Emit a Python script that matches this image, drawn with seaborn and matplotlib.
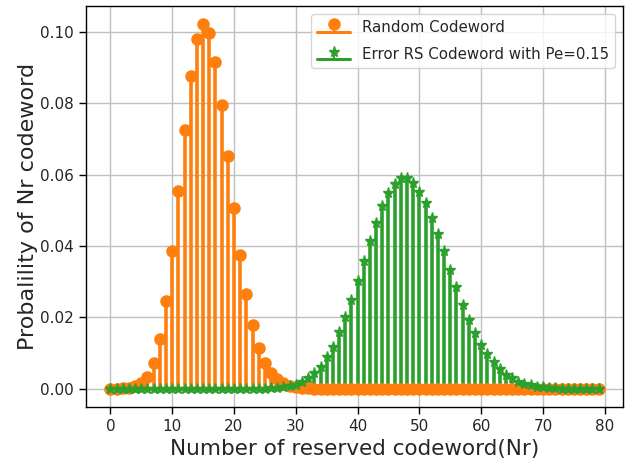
import numpy as np
import matplotlib
matplotlib.use("Agg")
import matplotlib.pyplot as plt
import seaborn as sns

nr = list(range(80))

random_codeword = [
    0.0000, 0.0000, 0.0001, 0.0003, 0.0008, 0.0017, 0.0033, 0.0072, 0.0140, 0.0246,
    0.0387, 0.0555, 0.0725, 0.0877, 0.0980, 0.1022, 0.0998, 0.0917, 0.0796, 0.0653,
    0.0508, 0.0375, 0.0266, 0.0179, 0.0114, 0.0072, 0.0044, 0.0027, 0.0015, 0.0008,
    0.0004, 0.0002, 0.0001, 0.0000, 0.0000, 0.0000, 0.0000, 0.0000, 0.0000, 0.0000,
    0.0000, 0.0000, 0.0000, 0.0000, 0.0000, 0.0000, 0.0000, 0.0000, 0.0000, 0.0000,
    0.0000, 0.0000, 0.0000, 0.0000, 0.0000, 0.0000, 0.0000, 0.0000, 0.0000, 0.0000,
    0.0000, 0.0000, 0.0000, 0.0000, 0.0000, 0.0000, 0.0000, 0.0000, 0.0000, 0.0000,
    0.0000, 0.0000, 0.0000, 0.0000, 0.0000, 0.0000, 0.0000, 0.0000, 0.0000, 0.0000,
]

error_rs_codeword = [
    0.0000, 0.0000, 0.0000, 0.0000, 0.0000, 0.0000, 0.0000, 0.0000, 0.0000, 0.0000,
    0.0000, 0.0000, 0.0000, 0.0000, 0.0000, 0.0000, 0.0000, 0.0000, 0.0000, 0.0000,
    0.0000, 0.0000, 0.0000, 0.0000, 0.0000, 0.0000, 0.0001, 0.0002, 0.0004, 0.0007,
    0.0012, 0.0020, 0.0030, 0.0044, 0.0062, 0.0088, 0.0118, 0.0158, 0.0201, 0.0249,
    0.0303, 0.0359, 0.0415, 0.0466, 0.0511, 0.0548, 0.0574, 0.0590, 0.0590, 0.0578,
    0.0553, 0.0520, 0.0480, 0.0434, 0.0385, 0.0333, 0.0284, 0.0236, 0.0194, 0.0156,
    0.0123, 0.0097, 0.0074, 0.0055, 0.0039, 0.0029, 0.0020, 0.0014, 0.0010, 0.0006,
    0.0004, 0.0002, 0.0001, 0.0000, 0.0000, 0.0000, 0.0000, 0.0000, 0.0000, 0.0000,
]

labels = ["Random Codeword", "Error RS Codeword with Pe=0.15"]
colors = ["#ff7f0e", "#2ca02c"]

sns.set_style("ticks")
plt.rcParams["font.family"] = ["DejaVu Sans"]

fig = plt.figure(figsize=(6.31, 4.63), dpi=100)
ax = fig.add_axes([0.1363, 0.121, 0.8510, 0.866])

c1 = ax.stem(nr, random_codeword, linefmt="-", markerfmt="o", basefmt="-", label=labels[0])
plt.setp(c1.stemlines, color=colors[0], linewidth=2.6, zorder=2)
plt.setp(c1.markerline, color=colors[0], markersize=8, zorder=3)
plt.setp(c1.baseline, color=colors[0], linewidth=2.2, zorder=2)

c2 = ax.stem(nr, error_rs_codeword, linefmt="-", markerfmt="*", basefmt="-", label=labels[1])
plt.setp(c2.stemlines, color=colors[1], linewidth=2.6, zorder=1.5)
plt.setp(c2.markerline, color=colors[1], markersize=8, zorder=4)
plt.setp(c2.baseline, color=colors[1], linewidth=2.2, zorder=1.5)

ax.grid(True, color="#c0c0c0", linewidth=1.0)
ax.set_axisbelow(True)
for s in ax.spines.values():
    s.set_color("black")
    s.set_linewidth(1.0)
    s.set_visible(True)
ax.tick_params(axis="both", labelsize=11, color="black", length=5, width=1, direction="out", pad=4)
ax.set_xticks([0, 10, 20, 30, 40, 50, 60, 70, 80])
ax.set_yticks([0.00, 0.02, 0.04, 0.06, 0.08, 0.10])
ax.set_yticklabels(["0.00", "0.02", "0.04", "0.06", "0.08", "0.10"])
ax.set_xlim(-3.95, 82.95)
ax.set_ylim(-0.0051, 0.1073)

ax.set_xlabel("Number of reserved codeword(Nr)", fontsize=15.5, labelpad=3)
ax.set_ylabel("Probalility of Nr codeword", fontsize=16, labelpad=1.5)

ax.legend(loc="upper right", fontsize=10.8, frameon=True, framealpha=0.8,
          edgecolor="#cccccc", fancybox=True, borderaxespad=0.5,
          labelspacing=0.85, handlelength=2.2)

fig.savefig("out.png", dpi=100)
